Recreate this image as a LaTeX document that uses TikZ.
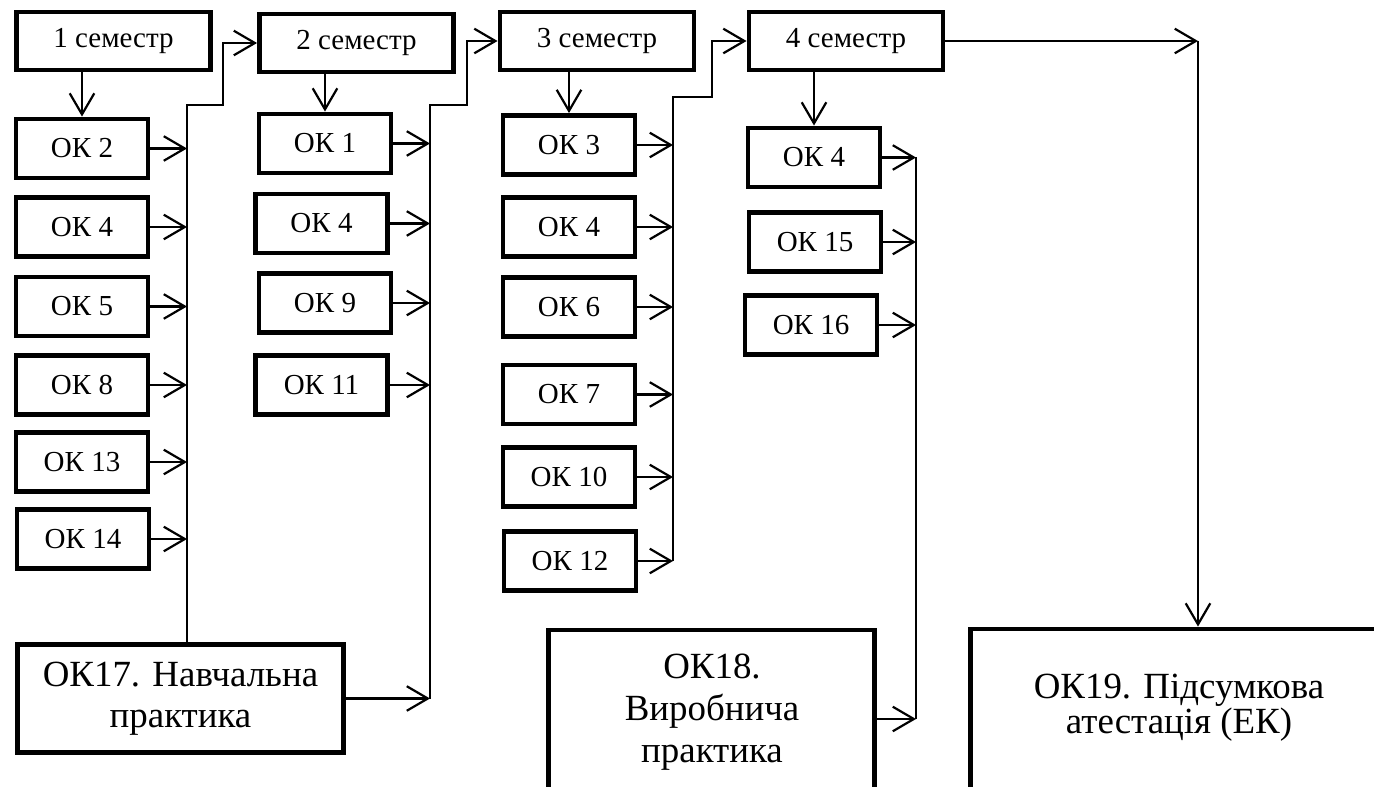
\documentclass[tikz,border=0pt]{standalone}
\usepackage{fontspec}
\setmainfont{Liberation Serif}
\usetikzlibrary{positioning, arrows.meta}

\begin{document}
\begin{tikzpicture}[x=0.02cm, y=-0.02cm,
    sembox/.style={draw, line width=2.8pt, minimum width=3.88cm, minimum height=1.16cm, inner sep=0pt, font=\fontsize{16.5}{19}\selectfont},
    okbox/.style={draw, line width=2.8pt, minimum width=2.64cm, minimum height=1.18cm, inner sep=0pt, font=\fontsize{16.5}{19}\selectfont},
    bigbox/.style={draw, line width=2.8pt, inner sep=0pt},
    bigtext/.style={align=center, inner sep=0pt, font=\fontsize{21}{23.5}\selectfont},
    con/.style={line width=1.25pt, -{Straight Barb[length=12pt, width=14pt]}},
    bus/.style={line width=1.25pt}]

    \useasboundingbox (0,0) rectangle (1374,787);
    \clip (0,0) rectangle (1374,787);

    % semesters
    \node [sembox] (sem1) at (113.5,41) {1 семестр};
    \node [sembox] (sem2) at (356.5,43) {2 семестр};
    \node [sembox] (sem3) at (597,41) {3 семестр};
    \node [sembox] (sem4) at (846,41) {4 семестр};

    % 1 semester
    \node [okbox] (s1k2) at (82,148.5) {ОК 2};
    \node [okbox] (s1k4) at (82,227) {ОК 4};
    \node [okbox] (s1k5) at (82,306.5) {ОК 5};
    \node [okbox] (s1k8) at (82,385) {ОК 8};
    \node [okbox] (s1k13) at (82,462) {ОК 13};
    \node [okbox] (s1k14) at (83,539) {ОК 14};

    % 2 semester
    \node [okbox] (s2k1) at (325,143.5) {ОК 1};
    \node [okbox] (s2k4) at (321.5,223.5) {ОК 4};
    \node [okbox] (s2k9) at (325,303) {ОК 9};
    \node [okbox] (s2k11) at (321.5,385) {ОК 11};

    % 3 semester
    \node [okbox] (s3k3) at (569,145) {ОК 3};
    \node [okbox] (s3k4) at (569,227) {ОК 4};
    \node [okbox] (s3k6) at (569,307) {ОК 6};
    \node [okbox] (s3k7) at (569,394.5) {ОК 7};
    \node [okbox] (s3k10) at (569,477) {ОК 10};
    \node [okbox] (s3k12) at (570,561) {ОК 12};

    % 4 semester
    \node [okbox] (s4k4) at (814,157.5) {ОК 4};
    \node [okbox] (s4k15) at (815,242) {ОК 15};
    \node [okbox] (s4k16) at (811,325) {ОК 16};

    % practice and final attestation
    \node [bigbox, bigtext, minimum width=6.52cm, minimum height=2.16cm] (ok17) at (180.5,698.5) {ОК17. Навчальна\\практика};
    \node [bigbox, minimum width=6.52cm, minimum height=3.56cm] (ok18) at (711.5,719) {};
    \node [bigtext, font=\fontsize{21}{24}\selectfont] (ok18t) at (712,712) {ОК18.\\Виробнича\\практика};
    \node [bigbox, minimum width=9.12cm, minimum height=3.56cm] (ok19) at (1198,718) {};
    \node [bigtext, font={\fontsize{21}{20}\selectfont\lineskiplimit=-5pt}] (ok19t) at (1179,708) {ОК19. Підсумкова\\атестація (ЕК)};

    % bus lines
    \coordinate (b1) at (187,105);
    \coordinate (j1) at (223,105);
    \coordinate (b2) at (430,105);
    \coordinate (j2) at (467,105);
    \coordinate (b3) at (673,97);
    \coordinate (j3) at (712,97);
    \coordinate (b4) at (916,152);
    \coordinate (turn) at (sem4.east -| ok19.north);

    % semester to first course
    \draw [con] (s1k2.north |- sem1.south) -- (s1k2.north);
    \draw [con] (s2k1.north |- sem2.south) -- (s2k1.north);
    \draw [con] (s3k3.north |- sem3.south) -- (s3k3.north);
    \draw [con] (s4k4.north |- sem4.south) -- (s4k4.north);

    % 1 semester to bus
    \draw [con] (s1k2.east) -- (s1k2.east -| b1);
    \draw [con] (s1k4.east) -- (s1k4.east -| b1);
    \draw [con] (s1k5.east) -- (s1k5.east -| b1);
    \draw [con] (s1k8.east) -- (s1k8.east -| b1);
    \draw [con] (s1k13.east) -- (s1k13.east -| b1);
    \draw [con] (s1k14.east) -- (s1k14.east -| b1);
    \draw [con] (ok17.north -| b1) -- (b1) -- (j1) |- (sem2.west);

    % 2 semester to bus
    \draw [con] (s2k1.east) -- (s2k1.east -| b2);
    \draw [con] (s2k4.east) -- (s2k4.east -| b2);
    \draw [con] (s2k9.east) -- (s2k9.east -| b2);
    \draw [con] (s2k11.east) -- (s2k11.east -| b2);
    \draw [con] (ok17.east) -- (ok17.east -| b2);
    \draw [con] (ok17.east -| b2) -- (b2) -- (j2) |- (sem3.west);

    % 3 semester to bus
    \draw [con] (s3k3.east) -- (s3k3.east -| b3);
    \draw [con] (s3k4.east) -- (s3k4.east -| b3);
    \draw [con] (s3k6.east) -- (s3k6.east -| b3);
    \draw [con] (s3k7.east) -- (s3k7.east -| b3);
    \draw [con] (s3k10.east) -- (s3k10.east -| b3);
    \draw [con] (s3k12.east) -- (s3k12.east -| b3);
    \draw [con] (s3k12.east -| b3) -- (b3) -- (j3) |- (sem4.west);

    % 4 semester to bus
    \draw [con] (s4k4.east) -- (s4k4.east -| b4);
    \draw [con] (s4k15.east) -- (s4k15.east -| b4);
    \draw [con] (s4k16.east) -- (s4k16.east -| b4);
    \draw [con] (ok18.east) -- (ok18.east -| b4);
    \draw [bus] (s4k4.east -| b4) -- (ok18.east -| b4);

    % to final attestation
    \draw [con] (sem4.east) -- (turn);
    \draw [con] (turn) -- (ok19.north);
\end{tikzpicture}
\end{document}
